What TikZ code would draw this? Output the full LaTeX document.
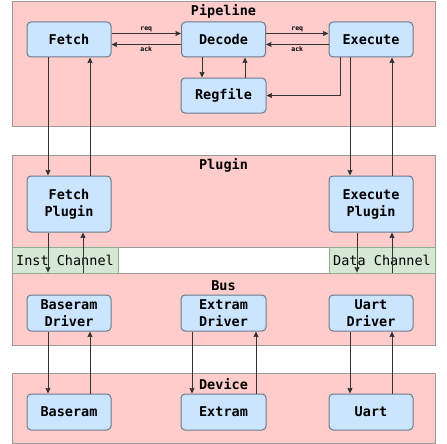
\documentclass[tikz,border=0pt]{standalone}
\usepackage{fontspec}
\setmonofont{DejaVu Sans Mono}
\usetikzlibrary{arrows.meta}

\definecolor{grpfill}{HTML}{FFCCCC}
\definecolor{grpline}{HTML}{9A9A9A}
\definecolor{unitfill}{HTML}{CCE5FF}
\definecolor{unitline}{HTML}{6A7A8A}
\definecolor{chanfill}{HTML}{D5E8D4}
\definecolor{chanline}{HTML}{8FAF8C}
\definecolor{wire}{HTML}{333333}

\tikzset{
	group/.style = {draw=grpline, fill=grpfill, line width=0.8pt, minimum width=423pt, inner sep=0pt},
	grptitle/.style = {font=\ttfamily\bfseries\fontsize{13.5}{16}\selectfont},
	unit/.style = {draw=unitline, fill=unitfill, line width=1pt, rounded corners=4pt, minimum width=84pt,
		minimum height=35pt, inner sep=0pt, align=center,
		font=\ttfamily\bfseries\fontsize{13.5}{17}\selectfont},
	chan/.style = {draw=chanline, fill=chanfill, line width=0.8pt, minimum width=106pt, minimum height=26pt,
		inner sep=0pt, font=\ttfamily\fontsize{13.5}{16}\selectfont},
	link/.style = {draw=wire, line width=0.9pt, -{Stealth[length=5.5pt,width=5pt,inset=0.5pt]}},
	tag/.style = {font=\ttfamily\bfseries\fontsize{6.5}{7}\selectfont, inner sep=1.5pt},
}

\begin{document}
\begin{tikzpicture}[x=1pt, y=1pt]
	\useasboundingbox (0,0) rectangle (447,-444);

	% layers
	\node[group, minimum height=125pt] (pipe) at (223.5,-63.5) {};
	\node[group, minimum height=92pt] (plug) at (223.5,-201) {};
	\node[group, minimum height=72pt] (bus) at (223.5,-309) {};
	\node[group, minimum height=70pt] (dev) at (223.5,-408) {};
	\node[grptitle] at (223.5,-11) {Pipeline};
	\node[grptitle] at (223.5,-165) {Plugin};
	\node[grptitle] at (223.5,-286) {Bus};
	\node[grptitle] at (223.5,-384) {Device};

	\node[chan] (ic) at (65,-260) {Inst Channel};
	\node[chan] (dc) at (382,-260) {Data Channel};

	% pipeline
	\node[unit] (fe) at (69,-39.5) {Fetch};
	\node[unit] (de) at (223.5,-39.5) {Decode};
	\node[unit] (ex) at (371,-39.5) {Execute};
	\node[unit, minimum width=85pt] (rf) at (223.5,-95.5) {Regfile};

	% plugins
	\node[unit, minimum height=56pt] (fp) at (69,-204) {Fetch\\Plugin};
	\node[unit, minimum height=56pt] (ep) at (371,-204) {Execute\\Plugin};

	% drivers
	\node[unit, minimum height=36pt] (bd) at (69,-313) {Baseram\\Driver};
	\node[unit, minimum height=36pt, minimum width=85pt] (ed) at (223.5,-313) {Extram\\Driver};
	\node[unit, minimum height=36pt] (ud) at (371,-313) {Uart\\Driver};

	% devices
	\node[unit, minimum height=36pt] (bm) at (69,-412) {Baseram};
	\node[unit, minimum height=36pt, minimum width=85pt] (em) at (223.5,-412) {Extram};
	\node[unit, minimum height=36pt] (ua) at (371,-412) {Uart};

	% req / ack
	\draw[link] ([yshift=6pt]fe.east) -- ([yshift=6pt]de.west) node[tag, midway, above] {req};
	\draw[link] ([yshift=-5pt]de.west) -- ([yshift=-5pt]fe.east) node[tag, midway, below] {ack};
	\draw[link] ([yshift=6pt]de.east) -- ([yshift=6pt]ex.west) node[tag, midway, above] {req};
	\draw[link] ([yshift=-5pt]ex.west) -- ([yshift=-5pt]de.east) node[tag, midway, below] {ack};

	\draw[link] (de.south -| 202,0) -- (rf.north -| 202,0);
	\draw[link] (rf.north -| 245,0) -- (de.south -| 245,0);
	\draw[link] (ex.south -| 340,0) |- (rf.east);

	% pipeline <-> plugins
	\draw[link] (fe.south -| 48,0) -- (fp.north -| 48,0);
	\draw[link] (fp.north -| 90,0) -- (fe.south -| 90,0);
	\draw[link] (ex.south -| 350,0) -- (ep.north -| 350,0);
	\draw[link] (ep.north -| 392,0) -- (ex.south -| 392,0);

	% plugins <-> bus
	\draw[link] (fp.south -| 48,0) -- (bus.north -| 48,0);
	\draw[link] (bus.north -| 83,0) -- (fp.south -| 83,0);
	\draw[link] (ep.south -| 357,0) -- (bus.north -| 357,0);
	\draw[link] (bus.north -| 392,0) -- (ep.south -| 392,0);

	% drivers <-> devices
	\draw[link] (bd.south -| 48,0) -- (bm.north -| 48,0);
	\draw[link] (bm.north -| 90,0) -- (bd.south -| 90,0);
	\draw[link] (ed.south -| 192,0) -- (em.north -| 192,0);
	\draw[link] (em.north -| 256,0) -- (ed.south -| 256,0);
	\draw[link] (ud.south -| 350,0) -- (ua.north -| 350,0);
	\draw[link] (ua.north -| 392,0) -- (ud.south -| 392,0);
\end{tikzpicture}
\end{document}
